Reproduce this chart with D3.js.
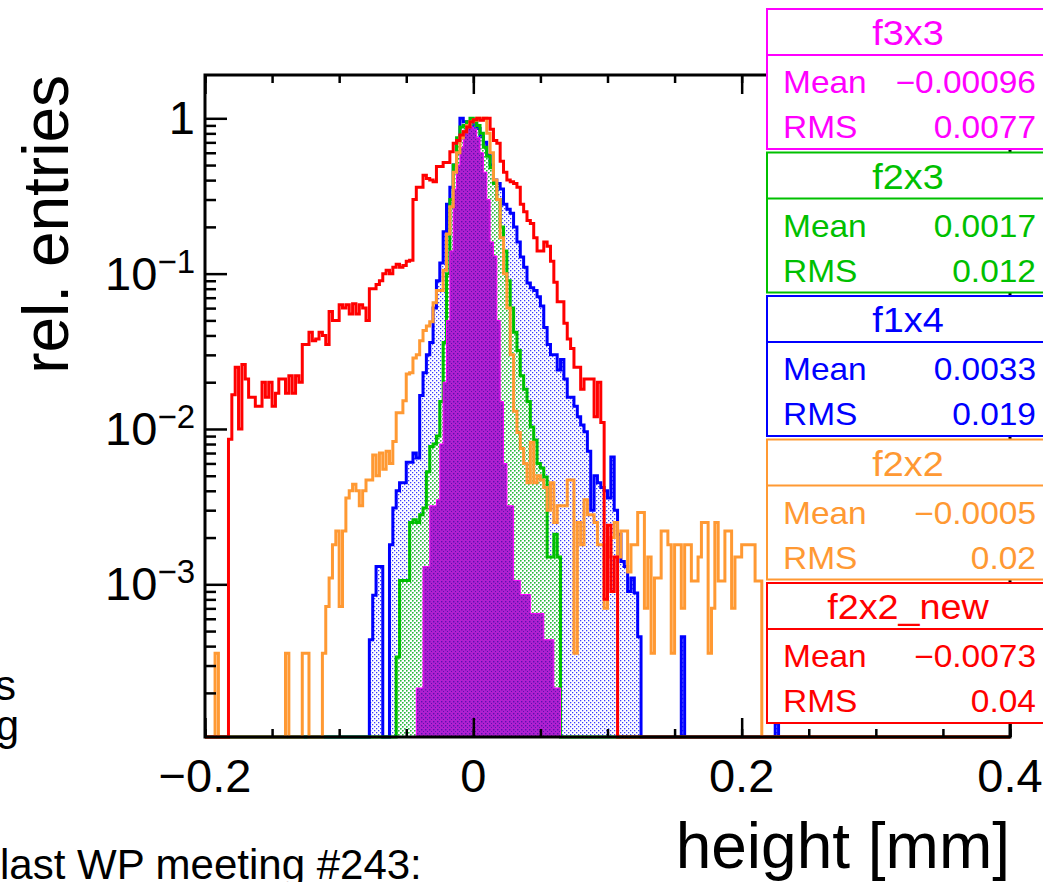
<!DOCTYPE html>
<html lang="en">
<head>
  <meta charset="UTF-8">
  <title>height</title>
  <script src="https://d3js.org/d3.v7.min.js"></script>
  <style>
    body { margin: 0; background: #fff; }
    text { font-family: "Liberation Sans", Arial, Helvetica, sans-serif; }
    .tick text { display: none; }
    .domain { display: none; }
  </style>
</head>
<body>
<svg id="chart" width="1043" height="882"></svg>
<script>
  // axis ranges and binning
  const xMin = -0.2, xMax = 0.4, binWidth = 0.0025;
  const yMin = 1.04e-4, yMax = 1.9;

  const xLabelTicks = [-0.2, 0, 0.2, 0.4];
  const xTickLabels = ["\u22120.2", "0", "0.2", "0.4"];
  const yDecades = [1e-3, 1e-2, 1e-1, 1];
  const yDecadeLabels = [["10", "\u22123"], ["10", "\u22122"], ["10", "\u22121"], ["1", ""]];

  // rel. entries per bin, first = index of first listed bin
  const f3x3First = 63;
  const f3x3Values = [0.000215, 0.000215, 0.0013, 0.0013, 0.0032, 0.0032, 0.0035, 0.008, 0.02, 0.05,
    0.14, 0.35, 0.50, 0.65, 0.84, 0.87, 0.88, 0.85, 0.75, 0.60,
    0.45, 0.30, 0.16, 0.13, 0.05, 0.015, 0.006, 0.0032, 0.0032, 0.00106,
    0.00106, 0.00086, 0.00086, 0.00086, 0.00065, 0.00065, 0.00065, 0.00065, 0.00044, 0.00044,
    0.00044, 0.000215, 0.000215];

  const f2x3First = 57;
  const f2x3Values = [0.00034, 0.00106, 0.00106, 0.00106, 0.0025, 0.0026, 0.0025, 0.0028, 0.0031, 0.0053,
    0.0077, 0.008, 0.009, 0.015, 0.036, 0.10, 0.30, 0.50, 0.75, 0.88,
    0.90, 0.95, 1.00, 0.95, 0.90, 0.80, 0.65, 0.57, 0.48, 0.38,
    0.30, 0.20, 0.14, 0.09, 0.06, 0.042, 0.032, 0.022, 0.018, 0.015,
    0.0103, 0.0085, 0.006, 0.0056, 0.0049, 0.0015, 0.0015, 0.0021, 0.0015];

  const f1x4First = 49;
  const f1x4Values = [0.00044, 0.00085, 0.0013, 0.0013, 0, 0, 0.0018, 0.0031, 0.0040, 0.0045,
    0.0045, 0.0061, 0.0061, 0.0070, 0.0065, 0.0164, 0.023, 0.030, 0.036, 0.060,
    0.090, 0.117, 0.186, 0.28, 0.36, 0.50, 0.71, 1.00, 0.95, 0.90,
    0.84, 0.95, 0.86, 0.76, 0.70, 0.58, 0.50, 0.40, 0.38, 0.35,
    0.28, 0.26, 0.245, 0.20, 0.16, 0.128, 0.11, 0.087, 0.081, 0.078,
    0.071, 0.062, 0.045, 0.035, 0.030, 0.030, 0.024, 0.028, 0.021, 0.016,
    0.016, 0.014, 0.012, 0.0106, 0.0096, 0.0072, 0.0030, 0.0050, 0.0045, 0.0042,
    0.0040, 0.0036, 0.0066, 0.0030, 0.0021, 0.0014, 0.0013, 0.0009, 0.0011, 0.00088,
    0.00046, 0, 0, 0, 0, 0, 0, 0, 0, 0,
    0, 0, 0, 0.00046, 0, 0, 0, 0, 0, 0,
    0, 0, 0, 0, 0, 0, 0, 0, 0, 0,
    0, 0, 0, 0, 0, 0, 0, 0, 0, 0,
    0, 0.00046];

  const f2x2First = 3;
  const f2x2Values = [0.00036, 0, 0, 0, 0, 0, 0, 0, 0, 0,
    0, 0, 0, 0, 0, 0, 0, 0, 0, 0,
    0, 0.00036, 0, 0, 0, 0, 0.00036, 0.00036, 0, 0,
    0, 0, 0.00036, 0.00072, 0.0011, 0.0018, 0.0022, 0.00072, 0.0022, 0.0036,
    0.0040, 0.0044, 0.0040, 0.0032, 0.0040, 0.0047, 0.0047, 0.0068, 0.0050, 0.0070,
    0.0055, 0.0072, 0.0060, 0.0083, 0.0127, 0.0127, 0.0152, 0.0226, 0.023, 0.0286,
    0.030, 0.037, 0.043, 0.046, 0.049, 0.065, 0.078, 0.078, 0.105, 0.18,
    0.27, 0.45, 0.60, 0.75, 0.82, 0.90, 0.95, 0.97, 1.00, 0.98,
    1.00, 0.80, 0.60, 0.40, 0.30, 0.17, 0.10, 0.06, 0.03, 0.013,
    0.0095, 0.0075, 0.006, 0.0045, 0.0082, 0.0045, 0.005, 0.0047, 0.0042, 0.0030,
    0.0045, 0.0025, 0.0032, 0.0032, 0.0032, 0.0047, 0.0047, 0.00036, 0.0025, 0.0018,
    0.0035, 0.0028, 0.0028, 0.0025, 0.0018, 0.0018, 0.0007, 0.0015, 0.0020, 0.0025,
    0.0015, 0.0022, 0.0022, 0.0012, 0.0018, 0.0018, 0.0029, 0.0029, 0.0007, 0.0015,
    0.00036, 0.0011, 0.0011, 0.0022, 0.0022, 0.0018, 0.00036, 0.0018, 0.0018, 0.0007,
    0.0018, 0.0018, 0.00105, 0.00105, 0.0015, 0.0025, 0.0025, 0.00036, 0.0007, 0.0025,
    0.00105, 0.00105, 0.0022, 0.0022, 0.0007, 0.0015, 0.0015, 0.0018, 0.0018, 0.0018,
    0.0018, 0.00105, 0.00105];

  const f2x2newFirst = 7;
  const f2x2newValues = [0.0086, 0.0166, 0.025, 0.010, 0.026, 0.021, 0.016, 0.016, 0.014, 0.014,
    0.020, 0.016, 0.020, 0.014, 0.017, 0.021, 0.021, 0.017, 0.022, 0.017,
    0.022, 0.020, 0.035, 0.035, 0.042, 0.037, 0.038, 0.042, 0.040, 0.035,
    0.057, 0.050, 0.050, 0.063, 0.060, 0.063, 0.055, 0.064, 0.055, 0.063,
    0.060, 0.050, 0.080, 0.080, 0.085, 0.090, 0.100, 0.105, 0.100, 0.110,
    0.115, 0.110, 0.113, 0.120, 0.122, 0.30, 0.36, 0.36, 0.43, 0.41,
    0.40, 0.39, 0.49, 0.49, 0.52, 0.52, 0.61, 0.69, 0.72, 0.78,
    0.82, 0.88, 0.95, 0.98, 1.00, 0.97, 1.00, 1.00, 0.85, 0.72,
    0.69, 0.53, 0.45, 0.40, 0.39, 0.38, 0.36, 0.28, 0.25, 0.22,
    0.21, 0.17, 0.14, 0.14, 0.16, 0.15, 0.12, 0.088, 0.066, 0.066,
    0.048, 0.038, 0.033, 0.025, 0.025, 0.018, 0.021, 0.021, 0.021, 0.012,
    0.020, 0.011, 0.0008, 0.0024, 0.0009, 0.0015];

  const seriesNames = ["f3x3", "f2x3", "f1x4", "f2x2", "f2x2_new"];
  const seriesMeans = ["\u22120.00096", "0.0017", "0.0033", "\u22120.0005", "\u22120.0073"];
  const seriesRms = ["0.0077", "0.012", "0.019", "0.02", "0.04"];
  const seriesColors = ["#ff00ff", "#00c000", "#0000ff", "#ff9933", "#ff0000"];

  const svg = d3.select("#chart");
  const margin = {top: 75, right: 33, bottom: 145, left: 205};
  const plotRight = 1043 - margin.right;
  const plotBottom = 882 - margin.bottom;

  const x = d3.scaleLinear().domain([xMin, xMax]).range([margin.left, plotRight]);
  const y = d3.scaleLog().domain([yMin, yMax]).range([plotBottom, margin.top]);

  // fill patterns (ROOT style dotted hatches)
  const defs = svg.append("defs");
  function dotPattern(id, color, dots, size, bg) {
    const p = defs.append("pattern")
      .attr("id", id)
      .attr("patternUnits", "userSpaceOnUse")
      .attr("width", 4).attr("height", 4);
    if (bg) p.append("rect").attr("width", 4).attr("height", 4).attr("fill", bg);
    dots.forEach(d => {
      p.append("rect").attr("x", d[0]).attr("y", d[1])
        .attr("width", size).attr("height", size).attr("fill", color);
    });
  }
  dotPattern("patBlue", "#3c3cff", [[0, 0], [2, 2]], 1.3);
  dotPattern("patGreen", "#28c828", [[0, 0], [2, 2]], 1.5);
  dotPattern("patMagenta", "#5a10b0", [[1, 1], [3, 3]], 1.4, "#b020d0");

  function binsOf(first, values) {
    const nBins = Math.round((xMax - xMin) / binWidth);
    const pts = [];
    for (let i = 0; i < nBins; i++) {
      const k = i - first;
      const v = (k >= 0 && k < values.length) ? values[k] : 0;
      pts.push([xMin + i * binWidth, v]);
    }
    pts.push([xMax, pts[pts.length - 1][1]]);
    return pts;
  }

  const yv = v => y(Math.max(v, yMin));
  const stepLine = d3.line().x(d => x(d[0])).y(d => yv(d[1])).curve(d3.curveStepAfter);
  const stepArea = d3.area().x(d => x(d[0])).y0(plotBottom).y1(d => yv(d[1])).curve(d3.curveStepAfter);

  const plotArea = svg.append("g").attr("id", "histos");

  const hists = [
    {pts: binsOf(f1x4First, f1x4Values), color: seriesColors[2], fill: "url(#patBlue)", w: 3},
    {pts: binsOf(f2x3First, f2x3Values), color: seriesColors[1], fill: "url(#patGreen)", w: 3},
    {pts: binsOf(f3x3First, f3x3Values), color: seriesColors[0], fill: "url(#patMagenta)", w: 1},
    {pts: binsOf(f2x2First, f2x2Values), color: seriesColors[3], fill: null, w: 3},
    {pts: binsOf(f2x2newFirst, f2x2newValues), color: seriesColors[4], fill: null, w: 3}
  ];

  hists.forEach(h => {
    if (h.fill) {
      plotArea.append("path").attr("d", stepArea(h.pts)).attr("fill", h.fill).attr("stroke", "none");
    }
    plotArea.append("path").attr("d", stepLine(h.pts))
      .attr("fill", "none").attr("stroke", h.color).attr("stroke-width", h.w);
  });

  // axes: ticks only, drawn inside the frame
  const annotations = svg.append("g").attr("id", "annotations");
  const xMinor = d3.range(-4, 9).map(k => k * 0.05);
  annotations.append("g").attr("transform", `translate(0,${plotBottom})`)
    .call(d3.axisBottom(x).tickValues(xMinor).tickSize(-8).tickFormat(""));
  annotations.append("g").attr("transform", `translate(0,${plotBottom})`)
    .call(d3.axisBottom(x).tickValues(xLabelTicks).tickSize(-19).tickFormat(""));
  annotations.append("g").attr("transform", `translate(0,${margin.top})`)
    .call(d3.axisTop(x).tickValues(xMinor).tickSize(-8).tickFormat(""));
  annotations.append("g").attr("transform", `translate(0,${margin.top})`)
    .call(d3.axisTop(x).tickValues(xLabelTicks).tickSize(-19).tickFormat(""));

  const yMinor = [];
  [1e-4, 1e-3, 1e-2, 1e-1].forEach(dec => {
    for (let m = 2; m <= 9; m++) yMinor.push(m * dec);
  });
  annotations.append("g").attr("transform", `translate(${margin.left},0)`)
    .call(d3.axisLeft(y).tickValues(yMinor).tickSize(-11).tickFormat(""));
  annotations.append("g").attr("transform", `translate(${margin.left},0)`)
    .call(d3.axisLeft(y).tickValues(yDecades).tickSize(-22).tickFormat(""));
  annotations.selectAll(".tick line").attr("stroke", "#000").attr("stroke-width", 2.5);

  annotations.append("rect")
    .attr("x", margin.left).attr("y", margin.top)
    .attr("width", plotRight - margin.left).attr("height", plotBottom - margin.top)
    .attr("fill", "none").attr("stroke", "#000").attr("stroke-width", 3);

  xLabelTicks.forEach((d, i) => {
    annotations.append("text")
      .attr("x", x(d)).attr("y", plotBottom + 55)
      .attr("text-anchor", "middle")
      .style("font-size", "47px")
      .text(xTickLabels[i]);
  });

  yDecades.forEach((d, i) => {
    const t = annotations.append("text")
      .attr("x", margin.left - 10).attr("y", y(d) + 16)
      .attr("text-anchor", "end")
      .style("font-size", "47px");
    t.append("tspan").text(yDecadeLabels[i][0]);
    if (yDecadeLabels[i][1]) {
      t.append("tspan").attr("dy", -17).style("font-size", "33px").text(yDecadeLabels[i][1]);
    }
  });

  annotations.append("text")
    .attr("transform", `translate(68,${margin.top}) rotate(-90)`)
    .attr("text-anchor", "end")
    .style("font-size", "64px")
    .text("rel. entries");

  annotations.append("text")
    .attr("x", plotRight).attr("y", 868)
    .attr("text-anchor", "end")
    .style("font-size", "64px")
    .text("height [mm]");

  // stats boxes
  function boxText(g, tx, ty, anchor, size, color, str) {
    g.append("text")
      .attr("transform", `translate(${tx},${ty}) scale(1.08,1)`)
      .attr("text-anchor", anchor)
      .style("font-size", size + "px")
      .attr("fill", color)
      .text(str);
  }
  seriesNames.forEach((name, i) => {
    const top = 9 + i * 143.5;
    const c = seriesColors[i];
    const g = svg.append("g").attr("class", "stats");
    g.append("rect").attr("x", 767).attr("y", top).attr("width", 290).attr("height", 140)
      .attr("fill", "#fff").attr("stroke", c).attr("stroke-width", 2);
    g.append("line").attr("x1", 767).attr("x2", 1057).attr("y1", top + 46).attr("y2", top + 46)
      .attr("stroke", c).attr("stroke-width", 2);
    boxText(g, 908, top + 36, "middle", 35, c, name);
    boxText(g, 783, top + 84, "start", 31, c, "Mean");
    boxText(g, 1036, top + 84, "end", 31, c, seriesMeans[i]);
    boxText(g, 783, top + 129, "start", 31, c, "RMS");
    boxText(g, 1036, top + 129, "end", 31, c, seriesRms[i]);
  });

  // slide text behind the plot
  svg.append("text").attr("x", 16).attr("y", 700).attr("text-anchor", "end")
    .style("font-size", "42px").text("s");
  svg.append("text").attr("x", 19).attr("y", 740).attr("text-anchor", "end")
    .style("font-size", "42px").text("g");
  svg.append("text").attr("x", 0).attr("y", 879)
    .style("font-size", "42px").text("last WP meeting #243:");
</script>
</body>
</html>
